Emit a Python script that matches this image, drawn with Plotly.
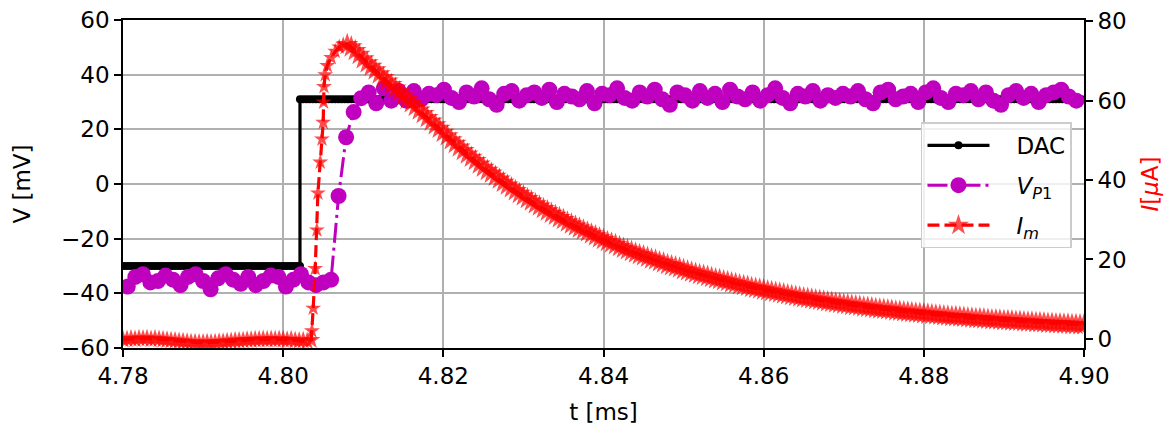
import numpy as np
import plotly.graph_objects as go

# ---------------- data ----------------
# DAC command: step from low to high level
DAC_LOW = -30.0
DAC_HIGH = 31.0
DAC_STEP_T = 4.8021
DAC_DT = 0.0004

# V_P1 samples (mV), sample interval ~0.00094 ms starting at 4.7806 ms
VP1_T0 = 4.7806
VP1_DT = 0.00094
vp1_values = [
    -37.5, -34.0, -33.0, -36.0, -35.5, -33.5, -35.0, -37.0, -34.0, -33.0,
    -35.5, -38.5, -34.5, -33.0, -35.0, -36.5, -34.0, -37.0, -35.5, -33.5,
    -34.0, -37.5, -35.0, -33.0, -36.0, -37.0, -36.0, -35.0,
    -4.4, 17.1, 26.3, 31.4,
    33.5, 29.5, 35.0, 30.5, 34.0, 30.5, 34.0, 31.0, 33.0, 32.5,
    34.5, 31.5, 30.0, 33.5, 32.0, 35.0, 31.0, 29.0, 33.0, 34.0,
    30.5, 32.5, 33.5, 31.5, 34.5, 30.0, 33.0, 32.0, 31.0, 34.0,
    29.5, 33.0, 32.5, 35.0, 31.5, 30.5, 33.5, 32.0, 34.5, 31.0,
    29.0, 33.5, 32.5, 30.5, 34.0, 31.5, 33.0, 30.0, 34.5, 32.0,
    31.0, 33.5, 30.5, 32.5, 35.0, 31.5, 29.5, 33.0, 32.0, 34.0,
    30.5, 32.5, 31.5, 33.0, 32.0, 34.0, 31.0, 29.5, 33.5, 34.5,
    31.0, 32.0, 33.0, 30.0, 33.5, 35.0, 31.5, 30.0, 33.0, 32.5,
    34.0, 31.0, 33.5, 30.5, 29.0, 32.5, 34.0, 31.5, 33.0, 30.0,
    32.5, 33.5, 34.5, 32.0, 30.5,
]

# I_m (uA): baseline samples every 0.0005 ms from 4.7800 ms
IM_BASE_T0 = 4.7800
IM_DT = 0.0005
im_baseline = [
    -0.2, -0.1, 0.0, -0.1, 0.1, 0.0, 0.1, -0.1, 0.0, -0.1,
    -0.2, -0.3, -0.4, -0.5, -0.6, -0.7, -0.8, -0.9, -0.9, -1.0,
    -1.0, -0.9, -1.0, -0.9, -0.8, -0.8, -0.7, -0.6, -0.5, -0.5,
    -0.4, -0.3, -0.3, -0.2, -0.2, -0.1, -0.2, -0.1, -0.2, -0.1,
    -0.2, -0.3, -0.2, -0.4, -0.5, -0.4, -0.6, -0.3,
]
# rising edge samples
im_rise_t = [4.80359, 4.80375, 4.80400, 4.80421, 4.80434, 4.80463, 4.80484, 4.80500,
             4.80505, 4.80510, 4.80525, 4.80550, 4.80600, 4.80650, 4.80700, 4.80750]
im_rise = [2.0, 7.7, 17.7, 27.4, 36.7, 44.5, 50.3, 54.5,
           59.6, 63.5, 66.5, 68.8, 70.8, 72.4, 73.5, 74.1]
# decay samples every 0.0005 ms from 4.8080 ms
IM_DECAY_T0 = 4.8080
im_decay = [
    74.1, 73.5, 72.6, 71.6, 70.5, 69.5, 68.6, 67.7, 66.7, 65.8,
    64.9, 64.0, 63.1, 62.2, 61.2, 60.3, 59.4, 58.5, 57.6, 56.7,
    55.7, 54.8, 53.9, 53.0, 52.0,
    51.1, 50.1, 49.2, 48.3, 47.4, 46.5, 45.7, 44.9, 44.0, 43.2,
    42.4, 41.7, 40.9, 40.2, 39.4, 38.7, 38.0, 37.3, 36.6, 36.0,
    35.3, 34.7, 34.0, 33.4, 32.8, 32.2, 31.6, 31.1, 30.5, 30.0,
    29.4, 28.9, 28.4, 27.9, 27.4, 26.9, 26.4, 25.9, 25.4, 25.0,
    24.5, 24.1, 23.7, 23.2, 22.8, 22.4, 22.0, 21.6, 21.2, 20.9,
    20.5, 20.1, 19.8, 19.4, 19.1, 18.7, 18.4, 18.1, 17.8, 17.4,
    17.1, 16.8, 16.5, 16.2, 16.0, 15.7, 15.4, 15.1, 14.9, 14.6,
    14.4, 14.1, 13.9, 13.6, 13.4, 13.2, 12.9, 12.7, 12.5, 12.3,
    12.1, 11.9, 11.7, 11.5, 11.3, 11.1, 10.9, 10.7, 10.5, 10.3,
    10.2, 10.0, 9.8, 9.7, 9.5, 9.3, 9.2, 9.0, 8.9, 8.7,
    8.6, 8.4, 8.3, 8.2, 8.0, 7.9, 7.8, 7.6, 7.5, 7.4,
    7.3, 7.2, 7.0, 6.9, 6.8, 6.7, 6.6, 6.5, 6.4, 6.3,
    6.2, 6.1, 6.0, 5.9, 5.8, 5.7, 5.6, 5.6, 5.5, 5.4,
    5.3, 5.2, 5.1, 5.1, 5.0, 4.9, 4.8, 4.8, 4.7, 4.6,
    4.6, 4.5, 4.4, 4.4, 4.3, 4.2, 4.2, 4.1, 4.1, 4.0,
    3.9, 3.9, 3.8, 3.8, 3.7, 3.7, 3.6, 3.6, 3.5, 3.5,
]

x_ticks = [4.78, 4.80, 4.82, 4.84, 4.86, 4.88, 4.90]
v_ticks = [-60, -40, -20, 0, 20, 40, 60]
i_ticks = [0, 20, 40, 60, 80]

# ---------------- build series ----------------
dac_t_low = list(np.round(np.arange(4.7800, DAC_STEP_T, DAC_DT), 5)) + [DAC_STEP_T]
dac_t_high = [DAC_STEP_T] + list(np.round(np.arange(DAC_STEP_T + DAC_DT, 4.9001, DAC_DT), 5))
dac_t = dac_t_low + dac_t_high
dac_v = [DAC_LOW] * len(dac_t_low) + [DAC_HIGH] * len(dac_t_high)

vp1_t = list(np.round(VP1_T0 + VP1_DT * np.arange(len(vp1_values)), 5))

im_t = (list(np.round(IM_BASE_T0 + IM_DT * np.arange(len(im_baseline)), 5))
        + im_rise_t
        + list(np.round(IM_DECAY_T0 + IM_DT * np.arange(len(im_decay)), 5)))
im_v = im_baseline + im_rise + im_decay

# marker sizes per segment (style only)
STAR_BASE, STAR_RISE, STAR_DECAY = 14, 12, 17
im_sizes = ([STAR_BASE] * len(im_baseline) + [STAR_RISE] * len(im_rise)
            + [STAR_DECAY] * len(im_decay))

BLACK = "#000000"
MAG = "#bf00bf"
RED = "#ff0000"
FONT = "DejaVu Sans"
FS = 23
SP = "&nbsp;&nbsp;&nbsp;"

fig = go.Figure()
fig.add_trace(go.Scatter(
    x=dac_t, y=dac_v, name=SP + "DAC", mode="lines+markers", legendgroup="a",
    line=dict(color=BLACK, width=3.2),
    marker=dict(symbol="circle", size=8, color=BLACK),
))
fig.add_trace(go.Scatter(
    x=vp1_t, y=vp1_values, name=SP + "<i>V</i><sub><i>P</i>1</sub>", mode="lines+markers",
    legendgroup="b",
    line=dict(color=MAG, width=3, dash="20px,5px,3px,5px"),
    marker=dict(symbol="circle", size=16, color=MAG),
))
fig.add_trace(go.Scatter(
    x=im_t, y=im_v, name=SP + "<i>I</i><sub><i>m</i></sub>", mode="lines+markers",
    legendgroup="c", yaxis="y2",
    line=dict(color=RED, width=3.2, dash="12px,5px"),
    marker=dict(symbol="star", size=im_sizes, color=RED, line=dict(width=0)),
))

axis_common = dict(
    showline=True, linecolor=BLACK, linewidth=1.6, automargin=False,
    ticks="outside", ticklen=7, tickwidth=1.6, tickcolor=BLACK,
    tickfont=dict(family=FONT, size=FS, color=BLACK),
    ticklabeloverflow="allow",
    zeroline=False,
)

# page body has an 8px margin, so the figure is sized/offset to compensate
fig.update_layout(
    width=1166, height=421,
    margin=dict(l=115, r=90, t=12, b=81),
    paper_bgcolor="white", plot_bgcolor="white",
    font=dict(family=FONT, size=FS, color=BLACK),
    xaxis=dict(
        range=[4.78, 4.90], tickvals=x_ticks, ticktext=[f"{v:.2f}" for v in x_ticks],
        showgrid=True, gridcolor="#b0b0b0", gridwidth=1.6, mirror=True,
        title=dict(text="t [ms]", font=dict(family=FONT, size=FS), standoff=15),
        **axis_common,
    ),
    yaxis=dict(
        range=[-60, 60], tickvals=v_ticks,
        showgrid=True, gridcolor="#b0b0b0", gridwidth=1.6,
        title=dict(text="V [mV]", font=dict(family=FONT, size=FS), standoff=24),
        **axis_common,
    ),
    yaxis2=dict(
        range=[-2.3, 80.3], tickvals=i_ticks, overlaying="y", side="right",
        showgrid=False,
        title=dict(text="<i>I</i>[<i>μ</i>A]", font=dict(family=FONT, size=FS, color=RED),
                   standoff=16),
        **axis_common,
    ),
    legend=dict(
        x=0.9875, y=0.688, xanchor="right", yanchor="top",
        bgcolor="rgba(255,255,255,0.8)", bordercolor="#cccccc", borderwidth=1.5,
        font=dict(family=FONT, size=FS, color=BLACK),
        traceorder="grouped", tracegroupgap=7, itemwidth=62,
    ),
    showlegend=True,
)

fig.write_html("out.html")
